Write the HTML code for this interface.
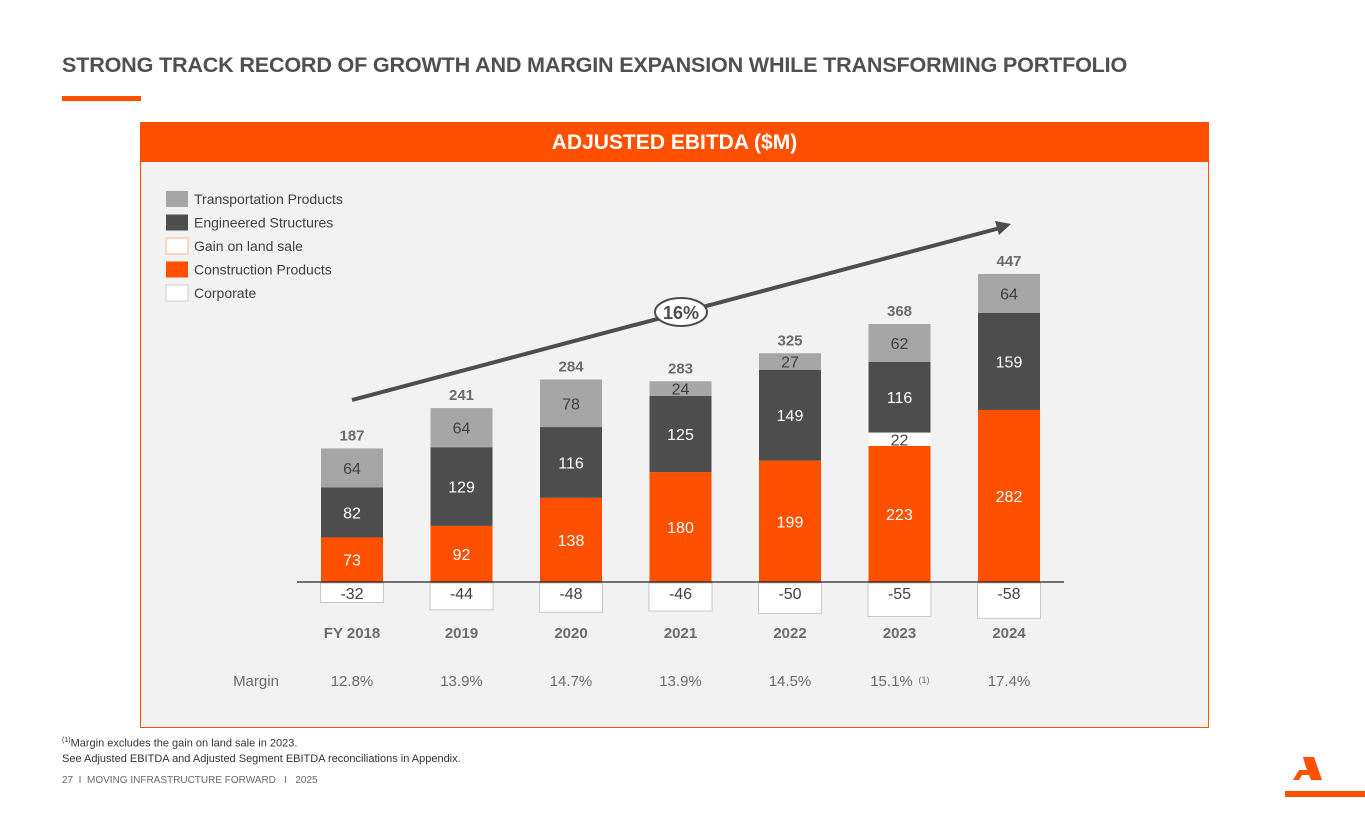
<!DOCTYPE html>
<html><head><meta charset="utf-8"><style>
body{margin:0;width:1365px;height:829px;background:#fff;font-family:"Liberation Sans",Arial,sans-serif;position:relative;overflow:hidden}
.t{position:absolute;white-space:nowrap}
</style></head><body>
<div class="t" style="left:62px;top:52px;font-size:21.6px;font-weight:bold;color:#505050;letter-spacing:-0.2px">STRONG TRACK RECORD OF GROWTH AND MARGIN EXPANSION WHILE TRANSFORMING PORTFOLIO</div>
<div style="position:absolute;left:62px;top:96px;width:79px;height:5px;background:#ff5000"></div>
<div style="position:absolute;left:140px;top:122px;width:1067px;height:604px;border:1px solid #ff5000;background:#f2f2f2"></div>
<div style="position:absolute;left:140px;top:122px;width:1069px;height:40px;background:#ff5000;color:#fff;font-weight:bold;font-size:21px;text-align:center;line-height:42px">ADJUSTED EBITDA ($M)</div>
<svg id="ch" width="1365" height="829" style="position:absolute;left:0;top:0" font-family="Liberation Sans, Arial, sans-serif"></svg>
<div class="t" style="left:62px;top:737px;font-size:11px;color:#333"><sup style="font-size:7px">(1)</sup>Margin excludes the gain on land sale in 2023.</div>
<div class="t" style="left:62px;top:753px;font-size:11px;color:#333">See Adjusted EBITDA and Adjusted Segment EBITDA reconciliations in Appendix.</div>
<div class="t" style="left:62px;top:775px;font-size:10px;color:#666">27&nbsp; I &nbsp;MOVING INFRASTRUCTURE FORWARD &nbsp; I &nbsp; 2025</div>
<svg width="95" height="60" style="position:absolute;left:1270px;top:750px">
<polygon points="33,7 44,7 52,30 41,30 39,25 32,25 29,30 23,30 29,20 37,20 35,14" fill="#ff5000"/>
<rect x="15" y="41" width="80" height="6" fill="#ff5000"/></svg>
<script>
const years=["FY 2018","2019","2020","2021","2022","2023","2024"];
const construction=[73,92,138,180,199,223,282];
const gain=[0,0,0,0,0,22,0];
const engineered=[82,129,116,125,149,116,159];
const transport=[64,64,78,24,27,62,64];
const corporate=[-32,-44,-48,-46,-50,-55,-58];
const totals=[187,241,284,283,325,368,447];
const margins=["12.8%","13.9%","14.7%","13.9%","14.5%","15.1%","17.4%"];
const svg=document.getElementById('ch');const NS='http://www.w3.org/2000/svg';
const base=582,k=0.61,x0=352,dx=109.5,bw=62;
const y=v=>base-v*k;
function el(t,a,txt){const e=document.createElementNS(NS,t);for(const i in a)e.setAttribute(i,a[i]);if(txt!==undefined)e.textContent=txt;svg.appendChild(e);return e;}
function txt(x,yy,s,fill,size,bold,name){const e=el('text',{x:x,y:yy,'text-anchor':'middle',fill:fill,'font-size':size,'font-weight':bold?'bold':'normal'},s);

return e;}
const leg=[["Transportation Products","#a6a6a6"],["Engineered Structures","#4d4d4d"],["Gain on land sale","#fff"],["Construction Products","#ff5000"],["Corporate","#fff"]];
leg.forEach((l,i)=>{const yy=191+i*23.5;
const r=el('rect',{x:166,y:yy,width:22,height:16,fill:l[1],stroke:i==2?'#ffb38a':(i==4?'#ccc':'none')});


const t=el('text',{x:194,y:yy+13,'font-size':14,fill:'#404040'},l[0]);

});
years.forEach((yr,i)=>{const cx=x0+i*dx,lx=cx-bw/2;let cum=0;
const segs=[[construction[i],'#ff5000','#fff'],[gain[i],'#fff','#404040'],[engineered[i],'#4d4d4d','#fff'],[transport[i],'#a6a6a6','#404040']];
segs.forEach((s,j)=>{if(!s[0])return;const y1=y(cum+s[0]),h=s[0]*k;
const r=el('rect',{x:lx,y:y1,width:bw,height:h,fill:s[1]});


txt(cx,y1+h/2+6,s[0],s[2],16,false,'bar-value');cum+=s[0];});
txt(cx,y(cum)-8,totals[i],'#6b6b6b',15,true,'total-label');
const h=-corporate[i]*k;
const c=el('rect',{x:lx-0.5,y:base+1,width:bw+1,height:h,fill:'#fff',stroke:'#c8c8c8'});


txt(cx,base+17,corporate[i],'#404040',16,false,'corporate-value');
txt(cx,638,yr,'#6b6b6b',15,true,'x-axis-label');
txt(cx+(i==5?-8:0),686,margins[i],'#6b6b6b',15,false,'margin-value');});
const s5=el('text',{x:x0+5*dx+19,y:683,'font-size':9,fill:'#6b6b6b'},'(1)');


const ax=el('line',{x1:297,y1:base,x2:1064,y2:base,stroke:'#222','stroke-width':1.3});


txt(256,686,'Margin','#6b6b6b',15,false,'margin-label');
const ar=el('line',{x1:352,y1:400,x2:1000,y2:228,stroke:'#4d4d4d','stroke-width':4});


const hd=el('polygon',{points:'1011,224 995,221 999,235',fill:'#4d4d4d'});


const ov=el('ellipse',{cx:681,cy:312,rx:26,ry:14,fill:'#fff',stroke:'#4d4d4d','stroke-width':2});


txt(681,319,'16%','#4d4d4d',18,true,'cagr-label');
</script>
</body></html>
